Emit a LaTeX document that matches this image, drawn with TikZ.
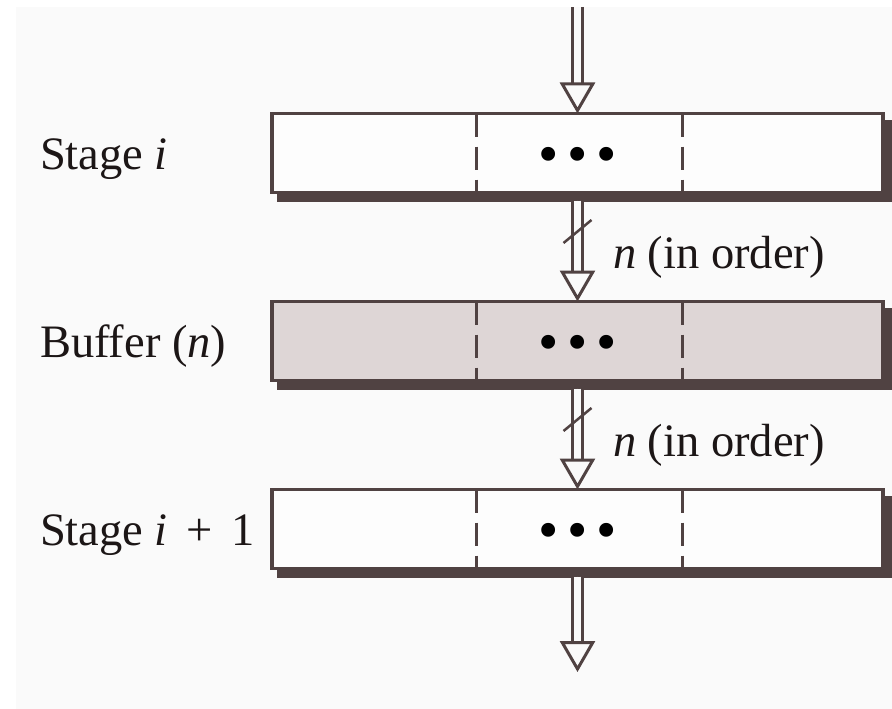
\documentclass[tikz,border=0pt]{standalone}
\usepackage{fontspec}
\setmainfont{Liberation Serif}
\usetikzlibrary{positioning,arrows.meta,shadows}
\definecolor{frame}{RGB}{80,66,66}
\definecolor{bg}{RGB}{250,250,250}
\definecolor{boxw}{RGB}{253,253,253}
\definecolor{bfill}{RGB}{222,214,214}
\definecolor{ink}{RGB}{28,22,22}
\tikzset{stg/.style={rectangle,draw=frame,line width=3.3pt,fill=boxw,minimum width=611,minimum height=79,
            copy shadow={shadow xshift=7pt,shadow yshift=-8pt,draw=frame,fill=frame}},
            bf/.style={stg,fill=bfill},
            lab/.style={text=ink,inner sep=0pt,font=\fontsize{46.5}{55}\selectfont},
            dots/.style={text=black,inner sep=0pt,font=\fontsize{58}{60}\selectfont,yshift=-7.8pt},
            pipe/.style={draw=frame,line width=3.2pt,double=bg,double distance=7.5pt,shorten >=29pt},
            arrowhd/.style={draw=bg,line width=.5pt,-{Triangle[open,length=31pt,width=35pt,line width=3pt,color=frame]}},
            divider/.style={draw=frame,line width=2.5pt,dash pattern=on 23pt off 10pt},
            slash/.style={draw=frame,line width=2.5pt}, outer sep=0pt}

\begin{document}
\begin{tikzpicture}[x=1pt,y=-1pt]
\useasboundingbox (0,0) rectangle (892,709);
\fill[white] (0,0) rectangle (892,709);
\fill[bg] (16,7) rectangle (892,709);
\node[stg] at (577.5,153)(1){};
\node[bf] at (577.5,341)(2){};
\node[stg] at (577.5,529)(3){};
\node[lab,anchor=base west] at (40,169)(4){Stage \textit{i}};
\node[lab,anchor=base west] at (40,357)(5){Buffer (\textit{n})};
\node[lab,anchor=base west] at (40,545)(6){Stage \textit{i}\hspace{.4em}+\hspace{.4em}1};
\node[lab,anchor=base west] at (613,268)(7){\textit{n} (in order)};
\node[lab,anchor=base west] at (613,456)(8){\textit{n} (in order)};
\node[dots] at (1)(9){\textbullet\hspace{8.7pt}\textbullet\hspace{8.7pt}\textbullet};
\node[dots] at (2)(10){\textbullet\hspace{8.7pt}\textbullet\hspace{8.7pt}\textbullet};
\node[dots] at (3)(11){\textbullet\hspace{8.7pt}\textbullet\hspace{8.7pt}\textbullet};
\coordinate (12) at (577.5,7);
\coordinate (13) at (577.5,672);
\foreach \b in {1,2,3}
  \foreach \d in {-101,105}
    \draw[divider] ([xshift=\d pt]\b.north) -- ([xshift=\d pt]\b.south);
\foreach \a/\b/\s in {12/1.north/0,1.south/2.north/8,2.south/3.north/8,3.south/13/8}
  {\draw[pipe,shorten <=\s pt] (\a) -- (\b);
   \draw[arrowhd,shorten <=\s pt] (\a) -- (\b);}
\draw[slash] ([shift={(-14pt,-50.5pt)}]1.south) -- ([shift={(14pt,-27.5pt)}]1.south);
\draw[slash] ([shift={(-14pt,-50.5pt)}]2.south) -- ([shift={(14pt,-27.5pt)}]2.south);
\end{tikzpicture}
\end{document}
